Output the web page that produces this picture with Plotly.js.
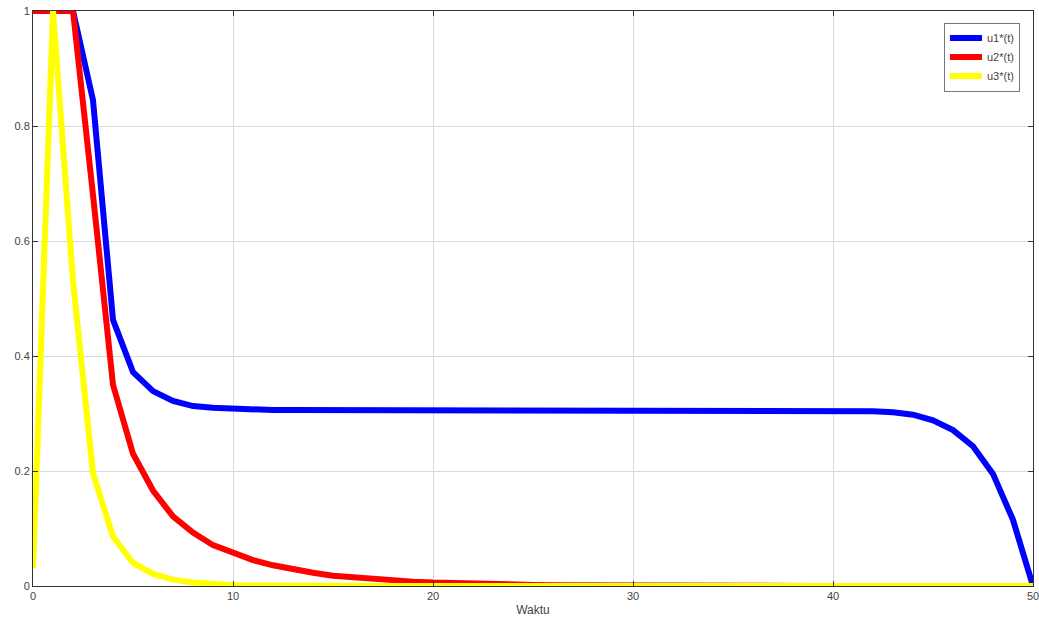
<!DOCTYPE html>
<html>
<head>
<meta charset="utf-8">
<script src="https://cdn.plot.ly/plotly-3.0.1.min.js"></script>
<style>html,body{margin:0;padding:0;background:#fff;}#chart{width:1039px;height:622px;}</style>
</head>
<body>
<div id="chart"></div>
<script>
var t = [0,1,2,3,4,5,6,7,8,9,10,11,12,13,14,15,16,17,18,19,20,21,22,23,24,25,26,27,28,29,30,31,32,33,34,35,36,37,38,39,40,41,42,43,44,45,46,47,48,49,50];
var u1 = [1,1,1,0.845,0.463,0.372,0.339,0.322,0.313,0.310,0.308,0.307,0.306,0.306,0.306,0.306,0.306,0.306,0.306,0.306,0.306,0.306,0.306,0.306,0.306,0.306,0.306,0.306,0.306,0.306,0.306,0.306,0.306,0.306,0.306,0.306,0.306,0.306,0.306,0.306,0.3055,0.305,0.304,0.302,0.298,0.288,0.271,0.243,0.195,0.115,0.0];
var u2 = [1,1,1,0.68,0.35,0.23,0.166,0.121,0.093,0.071,0.057,0.045,0.036,0.029,0.023,0.018,0.015,0.012,0.0095,0.0076,0.006,0.0048,0.0038,0.003,0.0024,0.0019,0.0015,0.0012,0.001,0.0008,0.0006,0.0005,0.0004,0.0003,0.0002,0.0002,0.0001,0.0001,0.0001,0,0,0,0,0,0,0,0,0,0,0,0];
var u3 = [0.031,1,0.53,0.196,0.086,0.040,0.021,0.011,0.006,0.003,0.0015,0.0008,0.0004,0.0002,0.0001,0,0,0,0,0,0,0,0,0,0,0,0,0,0,0,0,0,0,0,0,0,0,0,0,0,0,0,0,0,0,0,0,0,0,0,0];
var names = ['u1*(t)','u2*(t)','u3*(t)'];
var colors = ['#0000ff','#ff0000','#ffff00'];
var xTicks = [0,10,20,30,40,50];
var yTicks = [0,0.2,0.4,0.6,0.8,1];
var yTickText = ['0','0.2','0.4','0.6','0.8','1'];

var series = [u1,u2,u3];
var data = series.map(function(s,i){
  return {x:t, y:s, type:'scatter', mode:'lines', name:names[i],
    line:{color:colors[i], width:6}};
});
var axisCommon = {
  showline:true, linecolor:'#333', linewidth:1, mirror:'ticks',
  ticks:'inside', ticklen:5, tickcolor:'#333', tickwidth:1,
  showgrid:true, gridcolor:'#d9d9d9', gridwidth:1, zeroline:false,
  ticklabeloverflow:'allow',
  tickfont:{family:'Liberation Sans, Arial, sans-serif', size:11, color:'#444'}
};
var layout = {
  width:1039, height:622,
  margin:{l:33, r:6, t:11, b:36},
  paper_bgcolor:'#fff', plot_bgcolor:'#fff',
  showlegend:true,
  xaxis:Object.assign({}, axisCommon, {range:[0,50], tickvals:xTicks, ticktext:xTicks.map(String),
    title:{text:'Waktu', font:{family:'Liberation Sans, Arial, sans-serif', size:12, color:'#444'}, standoff:4}}),
  yaxis:Object.assign({}, axisCommon, {range:[0,1], tickvals:yTicks, ticktext:yTickText}),
  legend:{x:0.987, y:0.98, xanchor:'right', yanchor:'top', bgcolor:'#fff',
    bordercolor:'#777', borderwidth:1, itemwidth:32,
    font:{family:'Liberation Sans, Arial, sans-serif', size:11, color:'#444'}}
};
Plotly.newPlot('chart', data, layout, {displayModeBar:false});
</script>
</body>
</html>
